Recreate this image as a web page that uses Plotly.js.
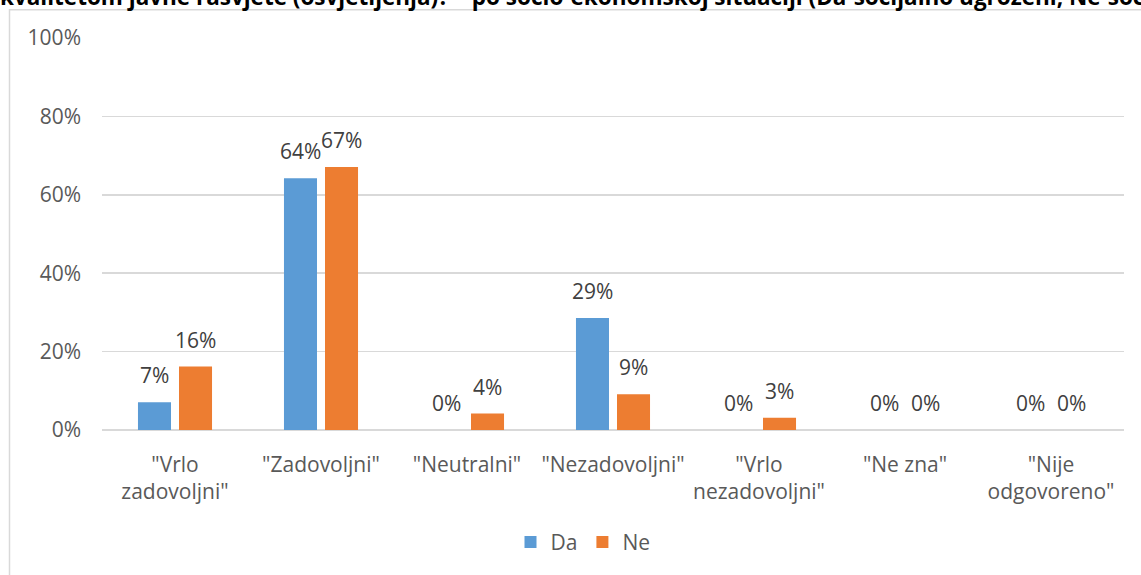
<!DOCTYPE html>
<html>
<head>
<meta charset="utf-8">
<script src="https://cdn.plot.ly/plotly-3.0.1.min.js"></script>
<style>html,body{margin:0;padding:0;background:#fff;}#chart{width:1141px;height:575px;}</style>
</head>
<body>
<div id="chart"></div>
<script>
const categories = ['"Vrlo<br>zadovoljni"', '"Zadovoljni"', '"Neutralni"', '"Nezadovoljni"', '"Vrlo<br>nezadovoljni"', '"Ne zna"', '"Nije<br>odgovoreno"'];
const seriesNames = ['Da', 'Ne'];
const daValues = [7.1, 64.2, 0, 28.6, 0, 0, 0];
const neValues = [16.2, 67.1, 4.2, 9.1, 3.1, 0, 0];
const yTicks = [0, 20, 40, 60, 80, 100];
const titleText = 'kvalitetom javne rasvjete (osvjetljenja)? – po socio-ekonomskoj situaciji (Da-socijalno ugroženi; Ne-socijalno neugroženi)';

const colors = ['#5b9bd5', '#ed7d31'];
const font = 'Open Sans, sans-serif';
const W = 1141, H = 575;
const mL = 102, mR = 17, mT = 38, mB = 143;
const pw = W - mL - mR, ph = H - mT - mB;
const px = x => (x - mL) / pw;
const py = y => (H - mB - y) / ph;

const allVals = [daValues, neValues];
const traces = allVals.map((vals, i) => ({
  type: 'bar', name: seriesNames[i], x: categories, y: vals,
  marker: {color: colors[i]}, hoverinfo: 'none'
}));

const annotations = [];
allVals.forEach((vals, i) => {
  vals.forEach((v, j) => {
    annotations.push({
      x: categories[j], y: v, xref: 'x', yref: 'y',
      xshift: i === 0 ? -20.5 : 20.5, yshift: 11,
      yanchor: 'bottom', xanchor: 'center', showarrow: false,
      text: Math.round(v) + '%',
      font: {family: font, size: 21, color: '#404040'}
    });
  });
});
annotations.push({
  xref: 'paper', yref: 'paper', x: px(-2), y: py(14), xanchor: 'left', yanchor: 'bottom',
  showarrow: false, text: '<b>' + titleText + '</b>', align: 'left',
  font: {family: font, size: 22.5, color: '#000000'}
});

const layout = {
  width: W, height: H,
  margin: {l: mL, r: mR, t: mT, b: mB},
  paper_bgcolor: '#ffffff', plot_bgcolor: '#ffffff',
  barmode: 'group', bargap: 0.438, bargroupgap: 0.195,
  showlegend: true,
  legend: {orientation: 'h', x: px(583), xanchor: 'center', y: py(545), yanchor: 'middle',
           font: {family: font, size: 21, color: '#595959'}, itemwidth: 30},
  xaxis: {type: 'category', showgrid: false, showline: false, zeroline: false, ticks: '',
          tickfont: {family: font, size: 21, color: '#595959'}, ticklabelstandoff: 20, fixedrange: true},
  yaxis: {range: [0, 100], tickvals: yTicks, ticktext: yTicks.map(t => t + '%'),
          showgrid: true, gridcolor: '#d9d9d9', gridwidth: 1.5, zeroline: true, zerolinecolor: '#d9d9d9', zerolinewidth: 1.5,
          showline: false, ticks: '', tickfont: {family: font, size: 21, color: '#595959'}, ticklabelstandoff: 20, fixedrange: true},
  annotations: annotations,
  shapes: [{type: 'rect', xref: 'paper', yref: 'paper', x0: px(9.5), y0: py(590), x1: px(1160), y1: py(9.5),
            line: {color: '#d9d9d9', width: 1.5}, fillcolor: 'rgba(0,0,0,0)', layer: 'below'}]
};

Plotly.newPlot('chart', traces, layout, {displayModeBar: false, staticPlot: true});
</script>
</body>
</html>
